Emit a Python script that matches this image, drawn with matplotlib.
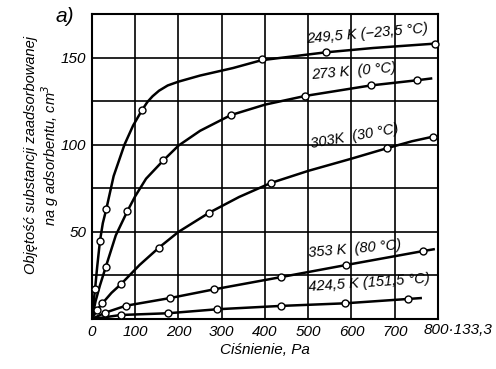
import matplotlib
matplotlib.use("Agg")
import matplotlib.pyplot as plt
import matplotlib.transforms as mtransforms

plt.rcParams['font.family'] = ['Liberation Sans', 'DejaVu Sans']
plt.rcParams['font.style'] = 'italic'

# curve traces (pressure in 133.3 Pa units, volume cm3/g)
p1 = [0, 3, 7, 12, 18.5, 25, 33, 50, 75, 95, 116, 128, 140, 155, 175, 200, 250, 326, 392, 540, 650, 792]
v1 = [0, 8, 17, 30, 45, 55, 63, 82, 100, 111, 120, 124.5, 127.8, 131, 134, 136.2, 139.7, 144, 148.5, 153, 155.5, 158]
p2 = [0, 8, 18, 32, 55, 82, 100, 125, 165, 200, 250, 321, 400, 493, 644, 752, 784]
v2 = [0, 10, 19, 30, 48, 62, 70.5, 80.5, 91, 99.5, 108, 117, 123, 128, 134, 137, 138]
p3 = [0, 11, 24, 45, 67, 110, 155, 200, 271, 340, 413, 500, 600, 682, 740, 788]
v3 = [0, 5, 9, 15, 20, 31, 41, 50, 61, 70, 78, 85, 92, 98, 102, 104.6]
p4 = [0, 30, 78, 180, 282, 436, 588, 766, 790]
v4 = [0, 3.6, 7.6, 12, 17, 24, 31, 39, 40]
p5 = [0, 67, 176, 290, 436, 585, 731, 760]
v5 = [0, 2.3, 3.3, 5.6, 7.5, 9, 11.5, 12]

# measured points (open circles)
m1_p = [7, 18.5, 33, 116, 392, 540, 792]
m1_v = [17, 45, 63, 120, 149, 153, 158]
m2_p = [32, 82, 165, 321, 493, 644, 752]
m2_v = [30, 62, 91, 117, 128, 134, 137]
m3_p = [11, 24, 67, 155, 271, 413, 682, 788]
m3_v = [5, 9, 20, 41, 61, 78, 98, 104.6]
m4_p = [30, 78, 180, 282, 436, 588, 766]
m4_v = [3.6, 7.6, 12, 17, 24, 31, 39]
m5_p = [67, 176, 290, 436, 585, 731]
m5_v = [2.3, 3.3, 5.6, 7.5, 9, 11.5]

labels = ["249,5 K (\u221223,5 \u00b0C)", "273 K  (0 \u00b0C)", "303K  (30 \u00b0C)",
          "353 K  (80 \u00b0C)", "424,5 K (151,5 \u00b0C)"]
label_x = [637, 605, 607, 607, 640]
label_y = [163.5, 142, 105, 40, 21]
label_rot = [5, 5, 10, 5, 4]

fig = plt.figure(figsize=(4.96, 3.69), dpi=100)
ax = fig.add_axes([0.1855, 0.1355, 0.6975, 0.8265])

curves = [(p1, v1, m1_p, m1_v), (p2, v2, m2_p, m2_v), (p3, v3, m3_p, m3_v),
          (p4, v4, m4_p, m4_v), (p5, v5, m5_p, m5_v)]
for p, v, mp, mv in curves:
    ax.plot(p, v, color='black', lw=1.8, zorder=3)
    ax.plot(mp, mv, 'o', ms=5, mfc='white', mec='black', mew=1.0, zorder=4,
            clip_on=False)

for t, x, y, r in zip(labels, label_x, label_y, label_rot):
    ax.text(x, y, t, fontsize=10.5, rotation=r, ha='center', va='center',
            rotation_mode='anchor')

ax.set_xlim(0, 800)
ax.set_ylim(0, 175)
ax.set_xticks(range(0, 801, 100))
ax.set_xticklabels(['0', '100', '200', '300', '400', '500', '600', '700', ''])
ax.set_yticks(range(0, 176, 25))
ax.set_yticklabels(['', '', '50', '', '100', '', '150', ''])
ax.tick_params(length=0, labelsize=11, pad=4)
ax.grid(True, color='black', lw=1.2)
for s in ax.spines.values():
    s.set_linewidth(1.5)

trans = mtransforms.blended_transform_factory(ax.transData, ax.transAxes)
ax.text(767, -0.013, "800\u00b7133,3", transform=trans, fontsize=11,
        ha='left', va='top')

ax.set_xlabel("Ci\u015bnienie, Pa", fontsize=11, labelpad=3)
fig.text(0.062, 0.58, "Obj\u0119to\u015b\u0107 substancji zaadsorbowanej",
         rotation=90, fontsize=10.5, ha='center', va='center')
fig.text(0.102, 0.58, "na g adsorbentu, cm$^3$",
         rotation=90, fontsize=10.5, ha='center', va='center')
fig.text(0.112, 0.955, "a)", fontsize=15, ha='left', va='center')

fig.savefig("out.png", dpi=100)
